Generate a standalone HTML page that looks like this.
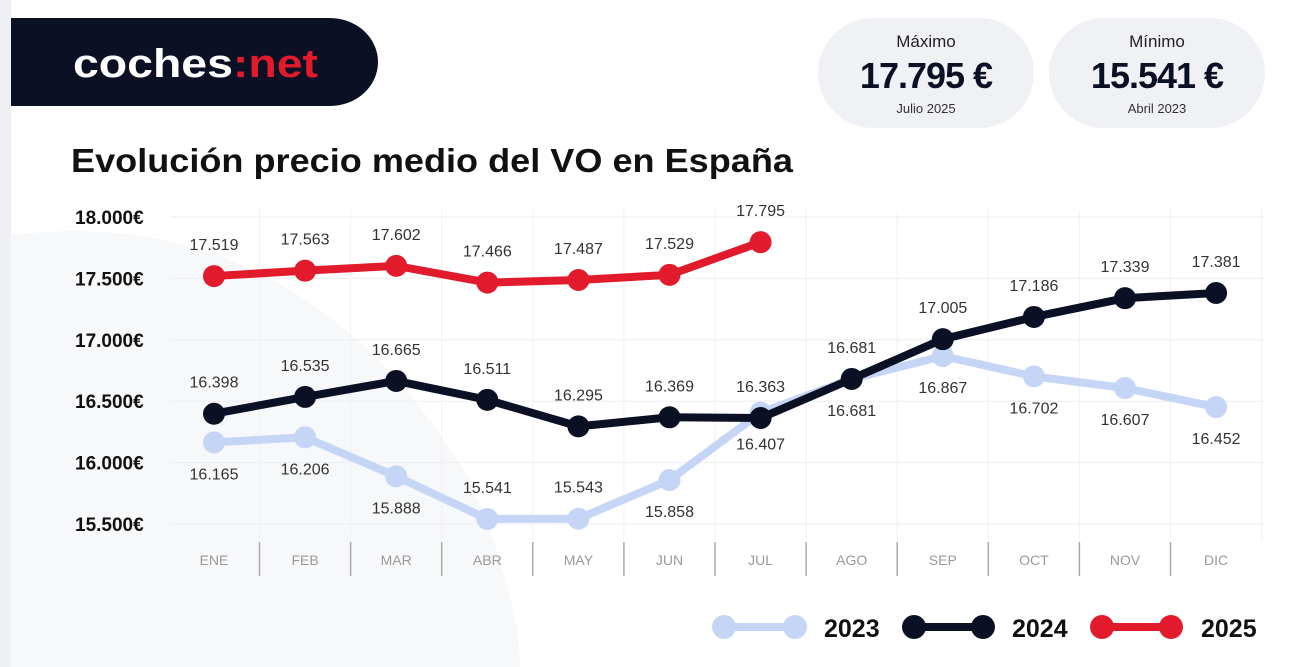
<!DOCTYPE html>
<html><head><meta charset="utf-8">
<style>
body{margin:0;width:1300px;height:667px;overflow:hidden;background:#fff;font-family:"Liberation Sans",sans-serif;}
svg{display:block}
</style></head>
<body>
<svg width="1300" height="667" viewBox="0 0 1300 667">
  <rect x="0" y="0" width="1300" height="667" fill="#fff"/>
  <rect x="0" y="0" width="11" height="667" fill="#eef0f4"/>
  <path d="M11 235 Q300 200 470 480 Q520 600 520 667 L11 667 Z" fill="#f7f8fa"/>
  <g>
    <path d="M11 18 H330 A48 44 0 0 1 330 106 H11 Z" fill="#0b1024"/>
    <text x="73" y="77" font-size="40" font-weight="bold" fill="#fff" textLength="245" lengthAdjust="spacingAndGlyphs">coches<tspan fill="#e11b2c">:net</tspan></text>
  </g>
  <g>
    <rect x="818" y="18" width="216" height="110" rx="55" fill="#f0f1f4"/>
    <text x="926" y="47" font-size="17" text-anchor="middle" fill="#222">Máximo</text>
    <text x="926" y="88" font-size="36" font-weight="bold" text-anchor="middle" fill="#0b1024" letter-spacing="-1">17.795 €</text>
    <text x="926" y="113" font-size="13" text-anchor="middle" fill="#333">Julio 2025</text>
  </g>
  <g>
    <rect x="1049" y="18" width="216" height="110" rx="55" fill="#f0f1f4"/>
    <text x="1157" y="47" font-size="17" text-anchor="middle" fill="#222">Mínimo</text>
    <text x="1157" y="88" font-size="36" font-weight="bold" text-anchor="middle" fill="#0b1024" letter-spacing="-1">15.541 €</text>
    <text x="1157" y="113" font-size="13" text-anchor="middle" fill="#333">Abril 2023</text>
  </g>
  <text x="71" y="172" font-size="33" font-weight="bold" fill="#111" textLength="722" lengthAdjust="spacingAndGlyphs">Evolución precio medio del VO en España</text>
  <g id="grid"></g>
  <g id="yaxis"></g>
  <g id="xaxis"></g>
  <g id="series"></g>
  <g>
    <g>
      <line x1="724" y1="627" x2="795" y2="627" stroke="#c5d5f5" stroke-width="8"/>
      <circle cx="724" cy="627" r="12" fill="#c5d5f5"/><circle cx="795" cy="627" r="12" fill="#c5d5f5"/>
      <text x="824" y="637" font-size="25" font-weight="bold" fill="#111">2023</text>
    </g>
    <g>
      <line x1="914" y1="627" x2="983" y2="627" stroke="#0b1024" stroke-width="8"/>
      <circle cx="914" cy="627" r="12" fill="#0b1024"/><circle cx="983" cy="627" r="12" fill="#0b1024"/>
      <text x="1012" y="637" font-size="25" font-weight="bold" fill="#111">2024</text>
    </g>
    <g>
      <line x1="1102" y1="627" x2="1171" y2="627" stroke="#e11b2c" stroke-width="8"/>
      <circle cx="1102" cy="627" r="12" fill="#e11b2c"/><circle cx="1171" cy="627" r="12" fill="#e11b2c"/>
      <text x="1201" y="637" font-size="25" font-weight="bold" fill="#111">2025</text>
    </g>
  </g>
</svg>
<script>
const months=["ENE","FEB","MAR","ABR","MAY","JUN","JUL","AGO","SEP","OCT","NOV","DIC"];
const yTicks=[15500,16000,16500,17000,17500,18000];
const yTickLabels=["15.500€","16.000€","16.500€","17.000€","17.500€","18.000€"];
const values2023=[16165,16206,15888,15541,15543,15858,16407,16681,16867,16702,16607,16452];
const values2024=[16398,16535,16665,16511,16295,16369,16363,16681,17005,17186,17339,17381];
const values2025=[17519,17563,17602,17466,17487,17529,17795];
const below2023=[1,1,1,0,0,1,1,1,1,1,1,1];
const below2024=[0,0,0,0,0,0,0,0,0,0,0,0];
const below2025=[0,0,0,0,0,0,0];

const NS="http://www.w3.org/2000/svg";
const x=i=>214+i*91.1;
const y=v=>524-(v-15500)/500*61.4;
function mk(tag,attrs,parent){const e=document.createElementNS(NS,tag);for(const k in attrs)e.setAttribute(k,attrs[k]);parent.appendChild(e);return e;}
const grid=document.getElementById('grid'),ya=document.getElementById('yaxis'),xa=document.getElementById('xaxis'),ser=document.getElementById('series');
yTicks.forEach((t,i)=>{
  const l=mk('line',{x1:170,x2:1265,y1:y(t),y2:y(t),stroke:'#eceef2','stroke-width':1},grid);
  
  
  const tx=mk('text',{x:75,y:y(t)+7,'font-size':19,'font-weight':'bold',fill:'#111'},ya);
  tx.textContent=yTickLabels[i];
  
  
});
months.forEach((m,i)=>{
  const gl=mk('line',{x1:x(i)+45.5,x2:x(i)+45.5,y1:210,y2:540,stroke:'#f0f1f4','stroke-width':1},grid);
  
  
  if(i<11){const s=mk('line',{x1:x(i)+45.5,x2:x(i)+45.5,y1:542,y2:576,stroke:'#aaa','stroke-width':1.5},xa);
  
  }
  const t=mk('text',{x:x(i),y:565,'font-size':14,fill:'#999','text-anchor':'middle'},xa);
  t.textContent=m;
  
  
});
function fmt(v){const s=String(v);return s.slice(0,s.length-3)+'.'+s.slice(-3);}
function draw(vals,below,color,name){
  const g=mk('g',{},ser);
  
  
  const p=mk('polyline',{points:vals.map((v,i)=>x(i)+','+y(v)).join(' '),fill:'none',stroke:color,'stroke-width':8,'stroke-linejoin':'round'},g);
  
  
  vals.forEach((v,i)=>{
    const c=mk('circle',{cx:x(i),cy:y(v),r:11,fill:color},g);
    
    
  });
  vals.forEach((v,i)=>{
    const t=mk('text',{x:x(i),y:y(v)+(below[i]?37:-26),'font-size':16,fill:'#333','text-anchor':'middle'},g);
    t.textContent=fmt(v);
    
    
  });
}
draw(values2023,below2023,'#c5d5f5','2023');
draw(values2024,below2024,'#0b1024','2024');
draw(values2025,below2025,'#e11b2c','2025');
</script>
</body></html>
